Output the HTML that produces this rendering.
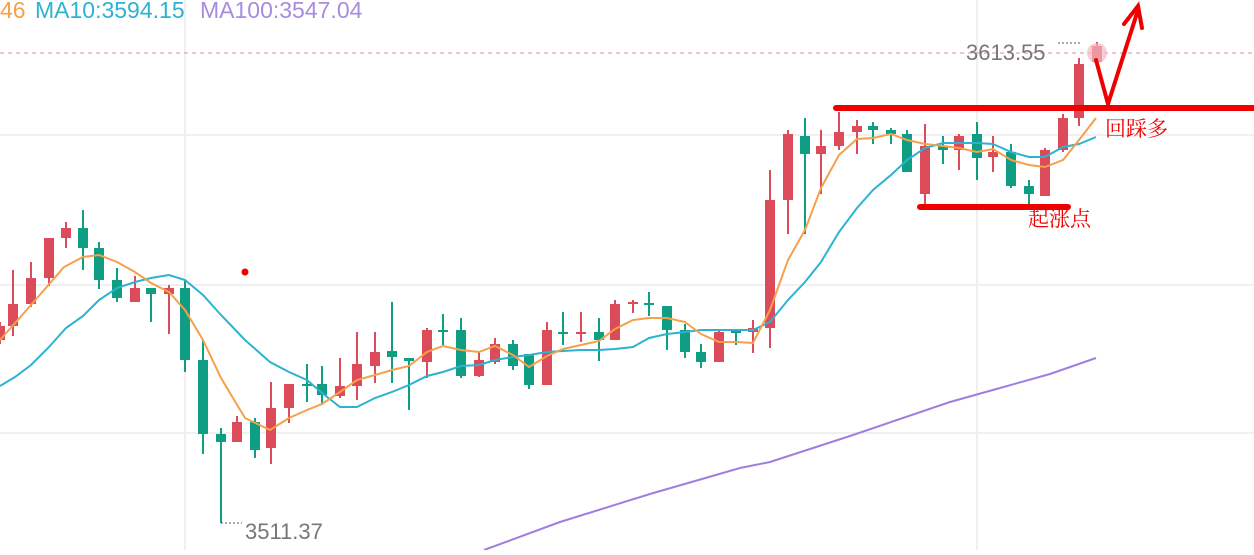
<!DOCTYPE html><html><head><meta charset="utf-8"><style>body{margin:0;width:1254px;height:550px;overflow:hidden;background:#fff}</style></head><body>
<svg width="1254" height="550" xmlns="http://www.w3.org/2000/svg" font-family="Liberation Sans, sans-serif">
<g stroke="#f0f0f0" stroke-width="2"><line x1="0" y1="135" x2="1254" y2="135"/><line x1="0" y1="285" x2="1254" y2="285"/><line x1="0" y1="433" x2="1254" y2="433"/><line x1="185" y1="0" x2="185" y2="550"/><line x1="977" y1="0" x2="977" y2="550"/></g>
<line x1="0" y1="53" x2="1254" y2="53" stroke="#e58a9a" stroke-dasharray="4,4"/>
<text y="18" font-size="23"><tspan x="0" fill="#f5a04a">46</tspan><tspan x="35" fill="#2bb3d1">MA10:3594.15</tspan><tspan x="200" fill="#a98be0">MA100:3547.04</tspan></text>
<g id="c"></g>
<polyline fill="none" stroke="#a07ee0" stroke-width="2" points="484,550 560,522 650,494 740,468 770,462 850,436 950,402 1000,388 1050,374 1096,358"/>
<polyline fill="none" stroke="#2bb3d1" stroke-width="2" points="0,386 15,377 31,365 49,347 66,328 83,316 99,300 117,288 135,282 151,278 169,275 185,280 203,295 221,315 245,340 270,362 289,372 307,380 322,393 340,407 357,407 375,398 392,392 409,385 427,376 443,372 461,366 479,365 495,360 513,357 529,355 547,352 563,351 581,350 599,350 615,349 633,347 649,338 667,334 685,332 701,330 719,330 736,330 753,330 770,322 788,300 805,282 821,262 839,232 857,208 873,190 891,175 907,160 925,148 943,143 959,143 977,143 993,144 1011,152 1029,157 1045,157 1063,147 1079,144 1096,137"/>
<polyline fill="none" stroke="#f5a04a" stroke-width="2" points="0,340 31,305 64,267 83,257 99,255 117,262 135,272 151,283 169,292 185,310 203,340 221,378 245,418 270,430 289,418 307,410 322,404 340,392 357,380 375,375 392,370 409,366 427,352 443,346 461,350 479,352 495,346 513,355 529,367 547,356 563,349 581,345 599,341 615,329 633,320 649,318 667,318 685,322 701,334 719,342 736,342 753,343 770,310 788,260 805,230 821,188 839,155 857,139 873,138 891,134 907,140 925,144 943,146 959,148 977,152 993,149 1011,160 1029,165 1045,167 1063,160 1079,140 1096,118"/>
<text x="966" y="60" font-size="22" fill="#777">3613.55</text><line x1="1058" y1="43" x2="1080" y2="43" stroke="#555" stroke-dasharray="2,2"/>
<text x="245" y="539" font-size="22" fill="#777">3511.37</text><line x1="221" y1="523" x2="242" y2="523" stroke="#555" stroke-dasharray="2,2"/>
<circle cx="245" cy="272" r="3.5" fill="#e00"/>
<circle cx="1097" cy="53" r="10" fill="#f4b8c0" opacity="0.7"/>
<g stroke="#ee0000" stroke-linecap="round" fill="none"><line x1="836" y1="108" x2="1254" y2="108" stroke-width="6"/><line x1="920" y1="207" x2="1068" y2="207" stroke-width="6"/><polyline points="1096,60 1108,104 1138,10" stroke-width="4"/><polyline points="1124,24 1138,6 1142,28" stroke-width="4"/></g>
<text x="1105" y="136" font-size="21" fill="#e00" font-family="Liberation Serif, Noto Serif CJK SC, serif">回踩多</text>
<text x="1028" y="226" font-size="21" fill="#e00" font-family="Liberation Serif, Noto Serif CJK SC, serif">起涨点</text>
</svg>
<script>
var d=[[0,'r',326,340,322,344],[13,'r',304,326,270,336],[31,'r',278,304,262,307],[49,'r',238,278,238,286],[66,'r',228,238,222,248],[83,'g',228,248,210,270],[99,'g',248,280,242,289],[117,'g',280,298,268,302],[135,'r',288,302,276,302],[151,'g',288,294,288,322],[169,'r',288,294,285,334],[185,'g',288,360,280,372],[203,'g',360,434,340,454],[221,'g',434,442,428,523],[237,'r',422,442,416,442],[255,'g',422,450,418,458],[271,'r',408,448,382,464],[289,'r',384,408,384,423],[307,'g',384,386,364,402],[322,'g',384,395,366,405],[340,'r',386,396,358,398],[357,'r',364,386,332,400],[375,'r',352,366,332,383],[392,'g',351,357,302,383],[409,'g',358,361,358,410],[427,'r',330,362,328,378],[443,'g',330,332,314,345],[461,'g',330,376,318,378],[479,'r',360,376,352,377],[495,'r',344,362,338,364],[513,'g',344,366,340,370],[529,'g',354,385,354,389],[547,'r',330,385,322,385],[563,'g',332,334,312,345],[581,'r',332,334,312,342],[599,'g',332,340,318,361],[615,'r',304,340,300,340],[633,'r',302,304,300,313],[649,'g',303,305,292,316],[667,'g',306,330,306,350],[685,'g',330,352,324,358],[701,'g',352,362,344,368],[719,'r',332,362,330,362],[736,'g',331,333,330,345],[753,'r',328,332,320,353],[770,'r',200,328,170,348],[788,'r',134,200,130,234],[805,'g',136,154,118,234],[821,'r',146,154,130,194],[839,'r',132,146,112,150],[857,'r',126,132,120,154],[873,'g',126,130,122,144],[891,'g',130,134,128,144],[907,'g',134,172,130,172],[925,'r',146,194,124,204],[943,'g',146,150,136,164],[959,'r',136,150,134,170],[977,'g',134,158,122,180],[993,'r',152,157,136,172],[1011,'g',152,186,144,188],[1029,'g',186,194,180,204],[1045,'r',150,196,148,196],[1063,'r',118,150,114,152],[1079,'r',64,118,58,126],[1097,'r',46,62,42,66]];
var s='';d.forEach(function(c){var col=c[1]=='r'?'#dc4b5a':'#0f9e84';s+='<line x1="'+c[0]+'" x2="'+c[0]+'" y1="'+c[4]+'" y2="'+c[5]+'" stroke="'+col+'" stroke-width="2"/><rect x="'+(c[0]-5)+'" y="'+c[2]+'" width="10" height="'+Math.max(2,c[3]-c[2])+'" fill="'+col+'"/>';});
document.getElementById('c').innerHTML=s;
</script>
</body></html>
